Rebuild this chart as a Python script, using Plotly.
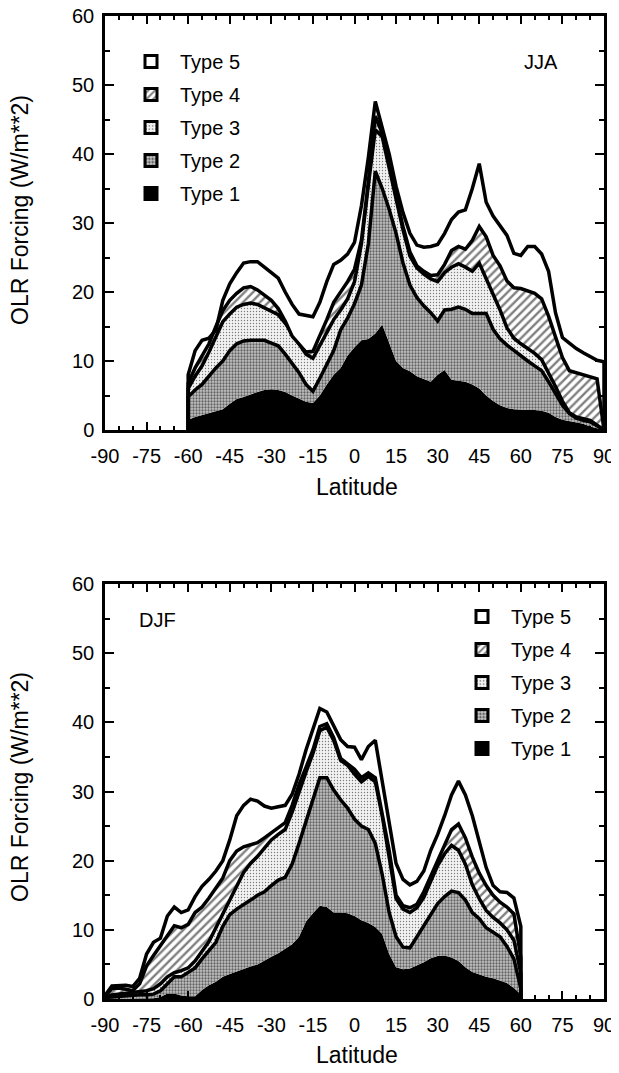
import plotly.graph_objects as go

# The page places the figure 8 px from the top-left corner, so the figure is
# 8 px smaller than the window and all reference positions are shifted by 8 px.
OFF = 8
W, H = 619 - OFF, 1073 - OFF
FONT = "Liberation Sans, Arial, Helvetica, sans-serif"


def px(x):
    return (x - OFF) / W


def py(y):
    return 1 - (y - OFF) / H


# ---------------- data (cumulative tops of the stacked types) ----------------
jja_lat = [-60 + 2.5 * i for i in range(61)]          # -60 .. 90
djf_lat = [-90 + 2.5 * i for i in range(61)]          # -90 .. 60

jja_type1 = [1.5, 1.9, 2.2, 2.4, 2.7, 3.0, 3.8, 4.5, 4.8, 5.2, 5.5, 5.8, 5.9, 5.8, 5.5, 5.0, 4.5, 4.1, 3.9, 5.0,
             6.6, 8.0, 9.0, 10.8, 12.0, 13.0, 13.2, 14.0, 15.3, 12.5, 10.0, 9.0, 8.5, 7.8, 7.4, 7.0, 8.0, 8.7, 7.3, 7.1,
             7.0, 6.6, 6.0, 5.0, 4.2, 3.6, 3.2, 3.0, 2.9, 2.9, 2.9, 2.8, 2.5, 1.9, 1.5, 1.3, 1.1, 0.9, 0.5, 0.2, 0.0]
jja_type2 = [4.8, 5.8, 6.6, 7.8, 9.0, 10.0, 11.5, 12.5, 12.9, 13.0, 13.0, 13.0, 12.6, 12.2, 11.0, 9.6, 8.3, 6.6, 5.6, 7.5,
             9.5, 11.5, 14.5, 16.2, 18.3, 21.0, 27.0, 37.5, 35.0, 32.0, 28.5, 24.2, 21.0, 19.2, 18.0, 17.0, 15.8, 17.4, 17.5, 17.8,
             17.5, 16.9, 16.9, 16.9, 14.6, 13.2, 12.3, 11.5, 10.7, 10.0, 9.3, 8.6, 7.0, 5.3, 3.6, 2.4, 1.7, 1.4, 1.2, 0.6, 0.0]
jja_type3 = [6.0, 7.8, 9.3, 11.3, 13.5, 15.7, 16.8, 17.8, 18.2, 18.4, 18.2, 17.7, 17.2, 16.7, 15.5, 14.0, 12.5, 11.0, 10.4, 12.3,
             14.2, 16.0, 17.4, 19.0, 21.5, 27.0, 35.5, 43.5, 42.5, 38.0, 33.3, 29.0, 25.2, 23.5, 22.6, 21.9, 21.5, 22.8, 23.6, 24.1,
             23.6, 23.0, 24.2, 22.0, 19.5, 17.4, 14.8, 13.3, 12.5, 11.8, 11.1, 10.2, 8.3, 6.3, 4.2, 2.5, 1.9, 1.6, 1.4, 0.7, 0.0]
jja_type4 = [6.8, 9.0, 10.8, 12.5, 15.0, 17.3, 18.8, 19.8, 20.6, 20.8, 20.3, 19.6, 18.8, 17.6, 15.8, 13.6, 12.5, 11.3, 11.4, 13.6,
             16.0, 18.5, 20.0, 21.5, 23.3, 27.5, 36.0, 45.5, 43.0, 39.0, 33.8, 29.5, 25.8, 23.8, 23.0, 22.4, 22.5, 24.0, 26.0, 26.6,
             26.2, 27.5, 29.5, 28.0, 25.3, 23.8, 21.6, 20.6, 20.5, 20.2, 19.8, 19.0, 16.5, 13.5, 10.5, 8.6, 8.3, 8.0, 7.6, 7.4, 0.0]
jja_type5 = [8.0, 11.5, 13.0, 13.3, 14.5, 18.8, 21.2, 22.8, 24.2, 24.4, 24.4, 23.6, 22.8, 22.0, 20.0, 18.2, 16.8, 16.6, 16.4, 18.5,
             21.5, 24.0, 24.6, 25.5, 27.2, 32.5, 39.5, 47.6, 44.0, 40.0, 35.3, 31.5, 28.5, 26.8, 26.5, 26.6, 26.9, 28.5, 30.5, 31.6,
             31.9, 35.0, 38.6, 33.0, 31.0, 29.6, 28.2, 25.6, 25.3, 26.6, 26.6, 25.5, 23.0, 17.0, 13.4, 12.6, 11.8, 11.2, 10.6, 10.1, 9.9]

djf_type1 = [0.0, 0.0, 0.0, 0.0, 0.0, 0.0, 0.0, 0.1, 0.3, 0.8, 0.8, 0.5, 0.4, 0.4, 1.3, 2.0, 2.5, 3.2, 3.6, 4.0,
             4.4, 4.7, 5.0, 5.6, 6.1, 6.6, 7.3, 7.9, 9.0, 11.2, 12.4, 13.5, 13.3, 12.5, 12.5, 12.4, 12.0, 11.4, 11.0, 10.4,
             9.4, 6.5, 4.6, 4.3, 4.4, 4.8, 5.3, 5.9, 6.2, 6.3, 6.0, 5.5, 4.6, 3.9, 3.5, 3.2, 3.0, 2.7, 2.3, 1.6, 0.7]
djf_type2 = [0.2, 0.3, 0.4, 0.5, 0.5, 0.6, 0.6, 0.7, 1.2, 2.2, 3.2, 3.2, 3.8, 4.5, 5.8, 7.0, 8.2, 10.5, 12.2, 13.0,
             13.6, 14.3, 15.0, 15.5, 16.4, 17.2, 17.6, 19.5, 22.5, 25.8, 29.0, 32.0, 32.0, 30.2, 28.8, 27.6, 26.0, 25.0, 24.5, 22.5,
             18.0, 12.5, 9.0, 7.5, 7.4, 9.0, 10.5, 12.2, 13.8, 14.8, 15.6, 15.4, 14.3, 12.5, 11.6, 10.3, 9.7, 9.0, 7.6, 5.8, 1.5]
djf_type3 = [0.2, 0.6, 0.7, 0.8, 0.9, 1.0, 1.2, 1.5, 2.2, 3.2, 3.8, 4.1, 4.5, 5.5, 6.8, 8.3, 10.3, 12.3, 14.5, 16.5,
             18.3, 19.6, 20.6, 21.8, 23.0, 23.8, 24.5, 27.0, 30.0, 32.8, 35.5, 38.8, 39.3, 37.4, 34.5, 33.8, 32.5, 31.4, 32.2, 31.4,
             26.5, 20.8, 14.5, 13.0, 12.5, 13.2, 14.7, 17.0, 19.3, 21.0, 22.2, 21.5, 19.5, 16.5, 14.5, 12.8, 11.8, 11.0, 10.0, 8.5, 3.7]
djf_type4 = [0.4, 1.5, 1.6, 1.4, 1.2, 2.2, 4.8, 6.3, 7.7, 9.0, 10.6, 10.3, 10.8, 12.5, 13.3, 14.6, 16.0, 17.5, 20.0, 21.4,
             22.0, 22.3, 22.6, 23.3, 24.0, 24.8, 25.5, 28.0, 31.0, 33.5, 36.0, 39.4, 39.8, 37.8, 34.8, 34.0, 33.2, 32.0, 32.7, 32.0,
             27.0, 21.5, 15.0, 13.5, 13.2, 13.7, 15.5, 17.8, 20.0, 22.3, 24.5, 25.3, 23.3, 20.5, 18.2, 16.4, 15.0, 14.0, 13.3, 12.3, 6.0]
djf_type5 = [0.5, 1.9, 2.0, 2.0, 1.8, 3.0, 6.5, 8.2, 8.8, 12.0, 13.3, 12.5, 12.9, 14.8, 16.3, 17.3, 18.5, 20.0, 23.0, 26.5,
             28.0, 28.9, 28.6, 27.9, 27.6, 27.8, 28.0, 29.6, 32.5, 36.0, 38.9, 42.0, 41.5, 39.5, 37.5, 36.5, 36.4, 34.6, 36.5, 37.4,
             31.5, 25.5, 19.6, 17.3, 16.5, 17.0, 18.5, 21.5, 23.8, 26.5, 29.5, 31.5, 29.5, 26.5, 22.7, 19.0, 16.4, 15.5, 15.4, 14.6, 10.5]

type_names = ["Type 1", "Type 2", "Type 3", "Type 4", "Type 5"]
x_tick_vals = [-90, -75, -60, -45, -30, -15, 0, 15, 30, 45, 60, 75, 90]
x_tick_text = ["-90", "-75", "-60", "-45", "-30", "-15", "0", "15", "30", "45", "60", "75", "90"]
y_tick_vals = [0, 10, 20, 30, 40, 50, 60]

# ---------------- styles ----------------
PATTERNS = [
    None,
    dict(shape=".", fgcolor="black", bgcolor="#c4c4c4", size=3, solidity=0.45),
    dict(shape=".", fgcolor="black", bgcolor="#f2f2f2", size=3, solidity=0.16),
    dict(shape="/", fgcolor="black", bgcolor="white", size=6, solidity=0.4),
    None,
]
FILLS = ["black", "#c4c4c4", "#f2f2f2", "white", "white"]

fig = go.Figure()


def add_panel(lat, series, xa, ya):
    xs = [lat[0]] + list(lat) + [lat[-1]]
    for k, vals in enumerate(series):
        ys = [0.0] + list(vals) + [0.0]
        kw = dict(
            x=xs, y=ys, mode="lines", xaxis=xa, yaxis=ya, showlegend=False,
            fill="tozeroy" if k == 0 else "tonexty",
            fillcolor=FILLS[k],
            line=dict(color="black", width=0 if k == 0 else 3.5),
            hoverinfo="skip",
        )
        if PATTERNS[k] is not None:
            kw["fillpattern"] = PATTERNS[k]
        fig.add_trace(go.Scatter(**kw))


add_panel(jja_lat, [jja_type1, jja_type2, jja_type3, jja_type4, jja_type5], "x", "y")
add_panel(djf_lat, [djf_type1, djf_type2, djf_type3, djf_type4, djf_type5], "x2", "y2")

# legend swatches
for leg, xa, ya in (("legend", "x", "y"), ("legend2", "x2", "y2")):
    for k in range(4, -1, -1):
        marker = dict(color=FILLS[k], line=dict(color="black", width=3))
        if PATTERNS[k] is not None:
            p = dict(PATTERNS[k])
            p["size"] = max(p["size"], 4)
            marker["pattern"] = p
        fig.add_trace(go.Bar(x=[None], y=[None], name=type_names[k], marker=marker,
                             xaxis=xa, yaxis=ya, legend=leg, showlegend=True,
                             legendgroup=leg + type_names[k]))

xdom = [px(105), px(604)]
top_dom = [py(430), py(16)]
bot_dom = [py(999), py(584)]


def xaxis(anchor):
    return dict(domain=xdom, range=[-90, 90], anchor=anchor, tickmode="array",
                tickvals=x_tick_vals, ticktext=x_tick_text, ticks="inside", ticklen=8,
                tickwidth=2, tickcolor="black", showline=True, linewidth=2.5, linecolor="black",
                mirror="ticks", showgrid=False, zeroline=False, automargin=False,
                ticklabeloverflow="allow",
                minor=dict(dtick=5, tick0=0, ticks="inside", ticklen=4, tickwidth=1.5, tickcolor="black"),
                tickfont=dict(family=FONT, size=20, color="black"), ticklabelstandoff=6)


def yaxis(anchor, dom):
    return dict(domain=dom, range=[0, 60], anchor=anchor, tickmode="array", tickvals=y_tick_vals,
                ticks="inside", ticklen=9, tickwidth=2, tickcolor="black", showline=True,
                linewidth=2.5, linecolor="black", mirror="ticks", showgrid=False, zeroline=False,
                automargin=False, ticklabeloverflow="allow",
                minor=dict(dtick=5, tick0=0, ticks="inside", ticklen=5, tickwidth=1.5, tickcolor="black"),
                tickfont=dict(family=FONT, size=20, color="black"), ticklabelstandoff=4)


leg_common = dict(bgcolor="rgba(0,0,0,0)", borderwidth=0, font=dict(family=FONT, size=20, color="black"),
                  xanchor="left", yanchor="top", itemwidth=48, traceorder="grouped", tracegroupgap=4,
                  itemclick=False)


def ann(text, x, y, size, angle=0):
    return dict(text=text, x=px(x), y=py(y), xref="paper", yref="paper", showarrow=False,
                xanchor="center", yanchor="middle", textangle=angle,
                font=dict(family=FONT, size=size, color="black"))


fig.update_layout(
    width=W, height=H, margin=dict(l=0, r=0, t=0, b=0, pad=0, autoexpand=False),
    paper_bgcolor="white", plot_bgcolor="white", showlegend=True,
    xaxis=xaxis("y"), yaxis=yaxis("x", top_dom),
    xaxis2=xaxis("y2"), yaxis2=yaxis("x2", bot_dom),
    legend=dict(x=px(122), y=py(42), **leg_common),
    legend2=dict(x=px(453), y=py(597), **leg_common),
    annotations=[
        ann("JJA", 541, 62, 20),
        ann("DJF", 157, 620, 20),
        ann("OLR Forcing (W/m**2)", 20, 210, 23, -90),
        ann("OLR Forcing (W/m**2)", 20, 787, 23, -90),
        ann("Latitude", 357, 487, 23),
        ann("Latitude", 357, 1055, 23),
    ],
)

fig.write_html("out.html")
